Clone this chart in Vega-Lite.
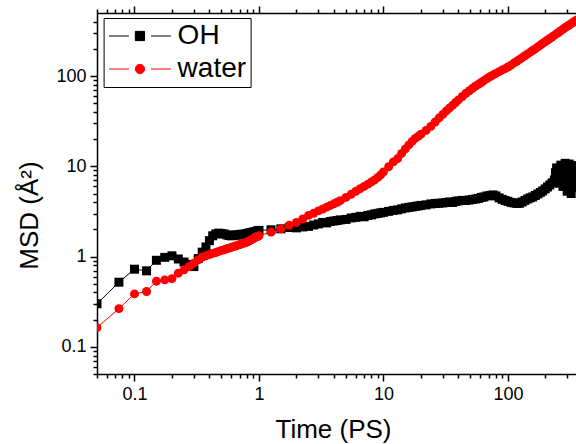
{
  "$schema": "https://vega.github.io/schema/vega-lite/v6.json",
  "autosize": "none",
  "padding": {"left": 97, "top": 13, "right": 0, "bottom": 70},
  "width": 479,
  "height": 361,
  "config": {
    "view": {"stroke": null},
    "font": "Liberation Sans",
    "axis": {
      "grid": false,
      "domainColor": "#000000",
      "domainWidth": 1.5,
      "tickColor": "#000000",
      "tickWidth": 1.5,
      "labelColor": "#000000",
      "labelFont": "Liberation Sans",
      "labelFontSize": 18,
      "titleFont": "Liberation Sans",
      "titleFontSize": 26,
      "titleFontWeight": "normal",
      "titleColor": "#000000",
      "labelOverlap": false,
      "labelBound": false,
      "labelFlush": false
    }
  },
  "data": {"values": [
    {"s":"OH","t":0.05,"msd":0.30},{"s":"OH","t":0.075,"msd":0.52},{"s":"OH","t":0.1,"msd":0.725},{"s":"OH","t":0.125,"msd":0.695},{"s":"OH","t":0.15,"msd":0.91},{"s":"OH","t":0.175,"msd":0.98},{"s":"OH","t":0.2,"msd":1.02},{"s":"OH","t":0.225,"msd":0.94},{"s":"OH","t":0.25,"msd":0.87},{"s":"OH","t":0.275,"msd":0.82},{"s":"OH","t":0.3,"msd":0.775},{"s":"OH","t":0.325,"msd":0.95},{"s":"OH","t":0.35,"msd":1.12},{"s":"OH","t":0.375,"msd":1.28},{"s":"OH","t":0.4,"msd":1.5},{"s":"OH","t":0.425,"msd":1.7},{"s":"OH","t":0.45,"msd":1.78},{"s":"OH","t":0.475,"msd":1.82},{"s":"OH","t":0.5,"msd":1.80},{"s":"OH","t":0.525,"msd":1.78},{"s":"OH","t":0.55,"msd":1.74},{"s":"OH","t":0.575,"msd":1.71},{"s":"OH","t":0.6,"msd":1.70},{"s":"OH","t":0.625,"msd":1.72},{"s":"OH","t":0.65,"msd":1.74},{"s":"OH","t":0.675,"msd":1.73},{"s":"OH","t":0.7,"msd":1.75},{"s":"OH","t":0.725,"msd":1.77},{"s":"OH","t":0.75,"msd":1.76},{"s":"OH","t":0.775,"msd":1.78},{"s":"OH","t":0.8,"msd":1.80},{"s":"OH","t":0.825,"msd":1.82},{"s":"OH","t":0.85,"msd":1.83},{"s":"OH","t":0.875,"msd":1.85},{"s":"OH","t":0.9,"msd":1.87},{"s":"OH","t":0.925,"msd":1.88},{"s":"OH","t":0.95,"msd":1.90},{"s":"OH","t":0.975,"msd":1.93},{"s":"OH","t":1.0,"msd":1.95},
    {"s":"OH","t":1.25,"msd":1.98},{"s":"OH","t":1.5,"msd":2.03},{"s":"OH","t":1.75,"msd":2.10},{"s":"OH","t":2,"msd":2.08},{"s":"OH","t":2.25,"msd":2.13},{"s":"OH","t":2.5,"msd":2.16},{"s":"OH","t":2.75,"msd":2.24},{"s":"OH","t":3,"msd":2.30},{"s":"OH","t":3.25,"msd":2.39},{"s":"OH","t":3.5,"msd":2.36},{"s":"OH","t":3.75,"msd":2.45},{"s":"OH","t":4,"msd":2.48},{"s":"OH","t":4.25,"msd":2.51},{"s":"OH","t":4.5,"msd":2.55},
    {"s":"OH","t":5,"msd":2.58},{"s":"OH","t":5.5,"msd":2.68},{"s":"OH","t":6,"msd":2.72},{"s":"OH","t":6.5,"msd":2.79},{"s":"OH","t":7,"msd":2.76},{"s":"OH","t":7.5,"msd":2.86},{"s":"OH","t":8,"msd":2.90},{"s":"OH","t":8.5,"msd":2.97},{"s":"OH","t":9,"msd":3.01},{"s":"OH","t":9.5,"msd":3.05},{"s":"OH","t":10,"msd":3.09},
    {"s":"OH","t":11,"msd":3.17},{"s":"OH","t":12,"msd":3.25},{"s":"OH","t":13,"msd":3.29},{"s":"OH","t":14,"msd":3.38},{"s":"OH","t":15,"msd":3.46},{"s":"OH","t":16,"msd":3.51},{"s":"OH","t":17,"msd":3.55},{"s":"OH","t":18,"msd":3.60},{"s":"OH","t":19,"msd":3.64},{"s":"OH","t":20,"msd":3.69},
    {"s":"OH","t":22,"msd":3.74},{"s":"OH","t":24,"msd":3.83},{"s":"OH","t":26,"msd":3.88},{"s":"OH","t":28,"msd":3.90},{"s":"OH","t":30,"msd":3.93},{"s":"OH","t":32,"msd":3.98},{"s":"OH","t":34,"msd":4.03},{"s":"OH","t":36,"msd":3.98},{"s":"OH","t":38,"msd":4.09},{"s":"OH","t":40,"msd":4.14},
    {"s":"OH","t":43,"msd":4.19},{"s":"OH","t":46,"msd":4.19},{"s":"OH","t":49,"msd":4.24},{"s":"OH","t":52,"msd":4.30},{"s":"OH","t":55,"msd":4.35},{"s":"OH","t":58,"msd":4.41},{"s":"OH","t":61,"msd":4.52},{"s":"OH","t":64,"msd":4.58},
    {"s":"OH","t":68,"msd":4.70},{"s":"OH","t":72,"msd":4.76},{"s":"OH","t":76,"msd":4.82},{"s":"OH","t":80,"msd":4.70},
    {"s":"OH","t":85,"msd":4.47},{"s":"OH","t":90,"msd":4.30},{"s":"OH","t":95,"msd":4.19},{"s":"OH","t":100,"msd":4.09},
    {"s":"OH","t":106,"msd":3.98},{"s":"OH","t":112,"msd":3.93},{"s":"OH","t":118,"msd":3.88},{"s":"OH","t":124,"msd":3.90},{"s":"OH","t":130,"msd":4.03},
    {"s":"OH","t":137,"msd":4.19},{"s":"OH","t":144,"msd":4.35},{"s":"OH","t":151,"msd":4.47},{"s":"OH","t":158,"msd":4.58},{"s":"OH","t":166,"msd":4.76},{"s":"OH","t":174,"msd":4.94},{"s":"OH","t":182,"msd":5.14},{"s":"OH","t":190,"msd":5.34},{"s":"OH","t":199,"msd":5.62},
    {"s":"OH","t":208,"msd":5.91},{"s":"OH","t":217,"msd":6.22},{"s":"OH","t":226,"msd":6.55},{"s":"OH","t":236,"msd":7.07},{"s":"OH","t":241,"msd":8.5},{"s":"OH","t":246,"msd":9.6},{"s":"OH","t":251,"msd":7.5},{"s":"OH","t":256,"msd":9.0},{"s":"OH","t":261,"msd":6.5},{"s":"OH","t":266,"msd":10.3},{"s":"OH","t":271,"msd":7.8},{"s":"OH","t":277,"msd":6.0},{"s":"OH","t":282,"msd":9.5},{"s":"OH","t":288,"msd":10.8},{"s":"OH","t":293,"msd":7.0},{"s":"OH","t":299,"msd":5.3},
    {"s":"OH","t":304,"msd":8.5},{"s":"OH","t":310,"msd":10.6},{"s":"OH","t":316,"msd":6.5},{"s":"OH","t":322,"msd":5.0},{"s":"OH","t":328,"msd":8.0},{"s":"OH","t":334,"msd":10.2},{"s":"OH","t":340,"msd":7.0},{"s":"OH","t":346,"msd":5.8},{"s":"OH","t":352,"msd":9.0},{"s":"OH","t":358,"msd":9.8},
    {"s":"water","t":0.05,"msd":0.163},{"s":"water","t":0.075,"msd":0.265},{"s":"water","t":0.1,"msd":0.386},{"s":"water","t":0.125,"msd":0.41},{"s":"water","t":0.15,"msd":0.534},{"s":"water","t":0.175,"msd":0.552},{"s":"water","t":0.2,"msd":0.569},{"s":"water","t":0.225,"msd":0.655},{"s":"water","t":0.25,"msd":0.713},{"s":"water","t":0.275,"msd":0.775},{"s":"water","t":0.3,"msd":0.845},{"s":"water","t":0.325,"msd":0.919},{"s":"water","t":0.35,"msd":0.99},{"s":"water","t":0.375,"msd":1.02},{"s":"water","t":0.4,"msd":1.055},{"s":"water","t":0.425,"msd":1.085},{"s":"water","t":0.45,"msd":1.11},{"s":"water","t":0.475,"msd":1.14},{"s":"water","t":0.5,"msd":1.17},{"s":"water","t":0.525,"msd":1.19},{"s":"water","t":0.55,"msd":1.22},{"s":"water","t":0.575,"msd":1.24},{"s":"water","t":0.6,"msd":1.27},{"s":"water","t":0.625,"msd":1.29},{"s":"water","t":0.65,"msd":1.31},{"s":"water","t":0.675,"msd":1.34},{"s":"water","t":0.7,"msd":1.36},{"s":"water","t":0.725,"msd":1.38},{"s":"water","t":0.75,"msd":1.40},{"s":"water","t":0.775,"msd":1.42},{"s":"water","t":0.8,"msd":1.45},{"s":"water","t":0.825,"msd":1.48},{"s":"water","t":0.85,"msd":1.51},{"s":"water","t":0.875,"msd":1.54},{"s":"water","t":0.9,"msd":1.58},{"s":"water","t":0.925,"msd":1.62},{"s":"water","t":0.95,"msd":1.65},{"s":"water","t":0.975,"msd":1.67},{"s":"water","t":1.0,"msd":1.70},
    {"s":"water","t":1.25,"msd":1.87},{"s":"water","t":1.5,"msd":2.03},{"s":"water","t":1.75,"msd":2.22},{"s":"water","t":2,"msd":2.39},{"s":"water","t":2.25,"msd":2.61},{"s":"water","t":2.5,"msd":2.86},{"s":"water","t":2.75,"msd":3.02},{"s":"water","t":3,"msd":3.21},{"s":"water","t":3.25,"msd":3.37},{"s":"water","t":3.5,"msd":3.53},{"s":"water","t":3.75,"msd":3.69},{"s":"water","t":4,"msd":3.84},{"s":"water","t":4.25,"msd":4.0},{"s":"water","t":4.5,"msd":4.16},
    {"s":"water","t":5,"msd":4.52},{"s":"water","t":5.5,"msd":4.9},{"s":"water","t":6,"msd":5.29},{"s":"water","t":6.5,"msd":5.65},{"s":"water","t":7,"msd":6.0},{"s":"water","t":7.5,"msd":6.35},{"s":"water","t":8,"msd":6.72},{"s":"water","t":8.5,"msd":7.07},{"s":"water","t":9,"msd":7.54},{"s":"water","t":9.5,"msd":8.03},{"s":"water","t":10,"msd":8.67},
    {"s":"water","t":11,"msd":9.9},{"s":"water","t":12,"msd":11.2},{"s":"water","t":13,"msd":12.2},{"s":"water","t":14,"msd":13.9},{"s":"water","t":15,"msd":15.6},{"s":"water","t":16,"msd":17.3},{"s":"water","t":17,"msd":18.9},{"s":"water","t":18,"msd":20.4},{"s":"water","t":19,"msd":21.5},{"s":"water","t":20,"msd":22.7},
    {"s":"water","t":22,"msd":25.0},{"s":"water","t":24,"msd":27.7},{"s":"water","t":26,"msd":31.0},{"s":"water","t":28,"msd":34.4},{"s":"water","t":30,"msd":37.6},{"s":"water","t":32,"msd":41.1},{"s":"water","t":34,"msd":44.4},{"s":"water","t":36,"msd":47.6},{"s":"water","t":38,"msd":51.0},{"s":"water","t":40,"msd":54.4},
    {"s":"water","t":43,"msd":59.4},{"s":"water","t":46,"msd":64.5},{"s":"water","t":49,"msd":68.8},{"s":"water","t":52,"msd":73.3},{"s":"water","t":55,"msd":77.7},{"s":"water","t":58,"msd":81.1},{"s":"water","t":61,"msd":84.9},{"s":"water","t":64,"msd":88.9},
    {"s":"water","t":68,"msd":94},{"s":"water","t":72,"msd":99},{"s":"water","t":76,"msd":103},{"s":"water","t":80,"msd":107},
    {"s":"water","t":85,"msd":112},{"s":"water","t":90,"msd":117},{"s":"water","t":95,"msd":121},{"s":"water","t":100,"msd":126},
    {"s":"water","t":106,"msd":132},{"s":"water","t":112,"msd":140},{"s":"water","t":118,"msd":146},{"s":"water","t":124,"msd":153},{"s":"water","t":130,"msd":160},
    {"s":"water","t":137,"msd":168},{"s":"water","t":144,"msd":176},{"s":"water","t":151,"msd":184},{"s":"water","t":158,"msd":192},{"s":"water","t":166,"msd":201},{"s":"water","t":174,"msd":211},{"s":"water","t":182,"msd":220},{"s":"water","t":190,"msd":230},{"s":"water","t":199,"msd":240},
    {"s":"water","t":208,"msd":251},{"s":"water","t":217,"msd":261},{"s":"water","t":226,"msd":271},{"s":"water","t":236,"msd":282},{"s":"water","t":246,"msd":295},{"s":"water","t":256,"msd":306},{"s":"water","t":266,"msd":318},{"s":"water","t":277,"msd":332},{"s":"water","t":288,"msd":345},{"s":"water","t":299,"msd":356},
    {"s":"water","t":310,"msd":368},{"s":"water","t":322,"msd":381},{"s":"water","t":334,"msd":395},{"s":"water","t":346,"msd":409},{"s":"water","t":358,"msd":420}
  ]},
  "encoding": {
    "y": {
      "field": "msd", "type": "quantitative",
      "scale": {"type": "log", "domain": [0.05, 500], "nice": false},
      "axis": {
        "values": [0.05,0.06,0.07,0.08,0.09,0.1,0.2,0.3,0.4,0.5,0.6,0.7,0.8,0.9,1,2,3,4,5,6,7,8,9,10,20,30,40,50,60,70,80,90,100,200,300,400],
        "format": "~g",
        "labelExpr": "indexof([0.1,1,10,100], datum.value) >= 0 ? datum.label : ''",
        "tickSize": {"condition": {"test": "indexof([0.1,1,10,100], datum.value) >= 0", "value": 7}, "value": 4},
        "labelPadding": 4,
        "title": "MSD (Å²)",
        "titleAngle": -90,
        "titleAlign": "center",
        "titleBaseline": "alphabetic",
        "titleX": -60,
        "titleY": 202
      }
    },
    "color": {
      "field": "s", "type": "nominal",
      "scale": {"domain": ["OH", "water"], "range": ["#000000", "#ff0000"]},
      "legend": {
        "title": null, "orient": "none", "legendX": 6.6, "legendY": 5,
        "strokeColor": "#000000", "fillColor": "#ffffff", "padding": 4,
        "symbolSize": 86, "symbolStrokeWidth": 1, "symbolOpacity": 1,
        "labelFont": "Liberation Sans", "labelFontSize": 28, "labelColor": "#000000",
        "labelOffset": 42, "rowPadding": 5,
        "encode": {"symbols": {"update": {"stroke": {"scale": "color", "field": "value"}, "fill": {"scale": "color", "field": "value"}, "opacity": {"value": 1}, "size": {"value": 86}}}}
      }
    }
  },
  "layer": [
    {
      "mark": {"type": "line", "strokeWidth": 1, "clip": true},
      "encoding": {
        "x": {
          "field": "t", "type": "quantitative",
          "scale": {"type": "log", "domain": [0.05, 352], "nice": false},
          "axis": {
            "orient": "top",
            "values": [0.05,0.06,0.07,0.08,0.09,0.1,0.2,0.3,0.4,0.5,0.6,0.7,0.8,0.9,1,2,3,4,5,6,7,8,9,10,20,30,40,50,60,70,80,90,100,200,300],
            "labels": false,
            "title": null,
            "tickSize": {"condition": {"test": "indexof([0.1,1,10,100], datum.value) >= 0", "value": 7}, "value": 4}
          }
        }
      }
    },
    {
      "transform": [{"filter": "datum.s == 'OH'"}],
      "mark": {"type": "square", "size": 81, "opacity": 1, "clip": true},
      "encoding": {
        "x": {
          "field": "t", "type": "quantitative",
          "scale": {"type": "log", "domain": [0.05, 352], "nice": false},
          "axis": {
            "orient": "bottom",
            "values": [0.05,0.06,0.07,0.08,0.09,0.1,0.2,0.3,0.4,0.5,0.6,0.7,0.8,0.9,1,2,3,4,5,6,7,8,9,10,20,30,40,50,60,70,80,90,100,200,300],
            "format": "~g",
            "labelExpr": "indexof([0.1,1,10,100], datum.value) >= 0 ? datum.label : ''",
            "tickSize": {"condition": {"test": "indexof([0.1,1,10,100], datum.value) >= 0", "value": 7}, "value": 4},
            "labelPadding": 4,
            "title": "Time (PS)",
            "titleX": 236,
            "titleY": 63,
            "titleAlign": "center",
            "titleBaseline": "alphabetic"
          }
        }
      }
    },
    {
      "transform": [{"filter": "datum.s == 'water'"}],
      "mark": {"type": "circle", "size": 80, "opacity": 1, "clip": true},
      "encoding": {
        "x": {"field": "t", "type": "quantitative", "axis": null}
      }
    },
    {
      "mark": {"type": "point", "filled": true, "opacity": 0, "clip": true},
      "encoding": {
        "x": {"field": "t", "type": "quantitative", "axis": null},
        "shape": {
          "field": "s", "type": "nominal",
          "scale": {"domain": ["OH", "water"], "range": ["M-2.72,0H1.58M6.34,0H10.64M2.96,-1H4.96V1H2.96Z", "M-2.72,0H1.58M6.34,0H10.64M4.96,0A1,1,0,1,1,2.96,0A1,1,0,1,1,4.96,0Z"]},
          "legend": {
            "title": null, "orient": "none", "legendX": 6.6, "legendY": 5,
            "strokeColor": "#000000", "fillColor": "#ffffff", "padding": 4,
            "symbolSize": 86, "symbolStrokeWidth": 1, "symbolOpacity": 1,
            "labelFont": "Liberation Sans", "labelFontSize": 28, "labelColor": "#000000",
            "labelOffset": 42, "rowPadding": 5,
            "encode": {"symbols": {"update": {"stroke": {"scale": "color", "field": "value"}, "fill": {"scale": "color", "field": "value"}, "opacity": {"value": 1}, "size": {"value": 86}}}}
          }
        }
      }
    }
  ],
  "resolve": {"axis": {"x": "independent"}}
}
